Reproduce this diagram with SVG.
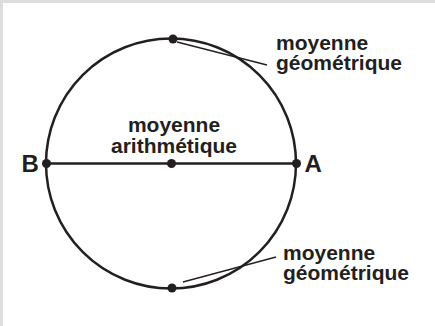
<svg xmlns="http://www.w3.org/2000/svg" width="435" height="326" viewBox="0 0 435 326">
<style>
.lbl{font-family:"Liberation Sans",Arial,Helvetica,sans-serif;font-weight:bold;font-size:21px;fill:#231f20}
.big{font-size:24px}
.dot{fill:#231f20}
.thick{stroke:#231f20;stroke-width:2.5;fill:none}
.thin{stroke:#231f20;stroke-width:1.3;fill:none}
</style>
<rect x="0" y="0" width="435" height="326" fill="#dcdddf"/>
<rect x="3" y="3" width="432" height="323" fill="#ffffff"/>
<g id="circle">
<circle class="thick" cx="171" cy="163.5" r="125"/>
</g>
<g id="connectors">
<line class="thick" x1="46" y1="163.5" x2="296" y2="163.5"/>
<line class="thin" x1="177" y1="42" x2="267" y2="65"/>
<line class="thin" x1="183" y1="282" x2="276" y2="257"/>
</g>
<g id="point-B">
<circle class="dot" cx="46.5" cy="163.5" r="4.5"/>
<text class="lbl big" x="21.5" y="171.5">B</text>
</g>
<g id="point-A">
<circle class="dot" cx="296.5" cy="163.5" r="4.5"/>
<text class="lbl big" x="304.5" y="171.5">A</text>
</g>
<g id="arith-mean">
<circle class="dot" cx="171.5" cy="163.5" r="4.5"/>
<text class="lbl" text-anchor="middle" x="174" y="132">moyenne</text>
<text class="lbl" text-anchor="middle" x="174" y="153">arithmétique</text>
</g>
<g id="geo-mean-top">
<circle class="dot" cx="173" cy="39" r="4.5"/>
<text class="lbl" x="276" y="49.5">moyenne</text>
<text class="lbl" x="276" y="69.5">géométrique</text>
</g>
<g id="geo-mean-bottom">
<circle class="dot" cx="172" cy="288" r="4.5"/>
<text class="lbl" x="283" y="259.5">moyenne</text>
<text class="lbl" x="283" y="279.5">géométrique</text>
</g>
</svg>
